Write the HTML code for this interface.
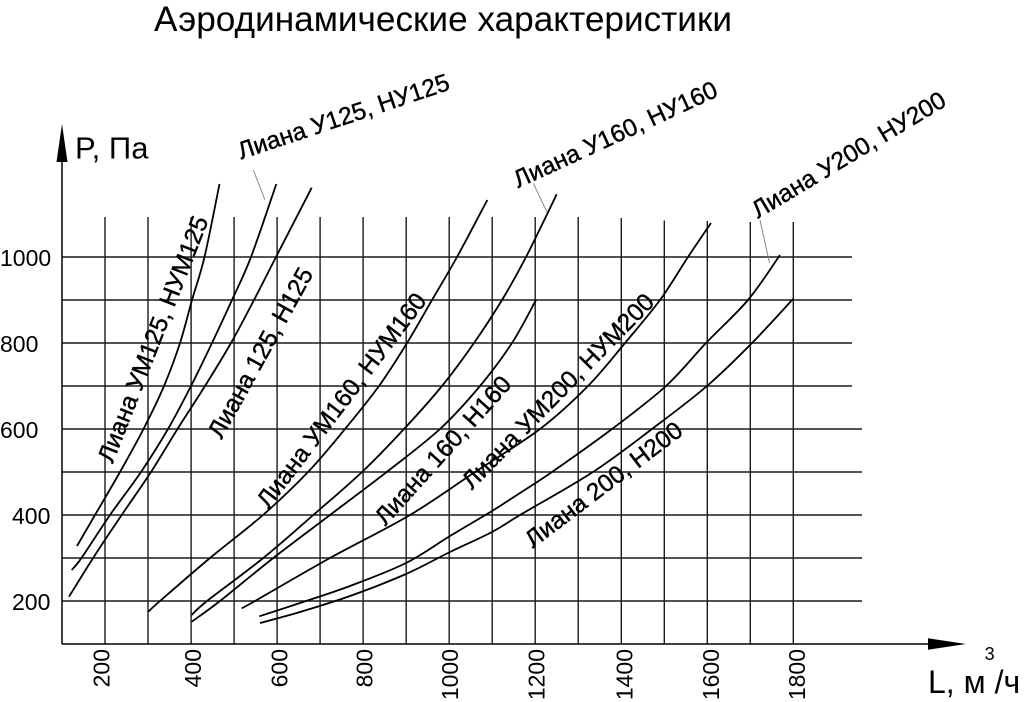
<!DOCTYPE html>
<html><head><meta charset="utf-8"><style>
html,body{margin:0;padding:0;background:#fff;}
svg{display:block;}
text{font-family:"Liberation Sans","DejaVu Sans",sans-serif;fill:#000;}
</style></head><body>
<svg id="chart" width="1024" height="702" viewBox="0 0 1024 702" xmlns="http://www.w3.org/2000/svg">
<rect width="1024" height="702" fill="#fff"/>
<text x="154" y="31" font-size="35" textLength="578" lengthAdjust="spacingAndGlyphs">Аэродинамические характеристики</text>
<g stroke="#1a1a1a" stroke-width="1.4" fill="none">
<line x1="105" y1="217" x2="105" y2="644"/>
<line x1="148" y1="217" x2="148" y2="644"/>
<line x1="191.1" y1="217" x2="191.1" y2="644"/>
<line x1="234.1" y1="217" x2="234.1" y2="644"/>
<line x1="277.1" y1="217" x2="277.1" y2="644"/>
<line x1="320.1" y1="217" x2="320.1" y2="644"/>
<line x1="363.1" y1="217" x2="363.1" y2="644"/>
<line x1="406.2" y1="217" x2="406.2" y2="644"/>
<line x1="449.2" y1="217" x2="449.2" y2="644"/>
<line x1="492.2" y1="217" x2="492.2" y2="644"/>
<line x1="535.2" y1="217" x2="535.2" y2="644"/>
<line x1="578.2" y1="217" x2="578.2" y2="644"/>
<line x1="621.3" y1="218" x2="621.3" y2="644"/>
<line x1="664.3" y1="220.5" x2="664.3" y2="644"/>
<line x1="707.3" y1="221" x2="707.3" y2="644"/>
<line x1="750.3" y1="222" x2="750.3" y2="644"/>
<line x1="793.3" y1="222" x2="793.3" y2="644"/>
<line x1="62" y1="257" x2="852" y2="257"/>
<line x1="62" y1="300" x2="852" y2="300"/>
<line x1="62" y1="343" x2="852" y2="343"/>
<line x1="62" y1="386" x2="852" y2="386"/>
<line x1="62" y1="429" x2="862" y2="429"/>
<line x1="62" y1="472" x2="862" y2="472"/>
<line x1="62" y1="515" x2="862" y2="515"/>
<line x1="62" y1="558" x2="862" y2="558"/>
<line x1="62" y1="601" x2="862" y2="601"/>
</g>
<g stroke="#000" stroke-width="1.5">
<line x1="62" y1="158" x2="62" y2="644"/>
<line x1="62" y1="644" x2="932" y2="644"/>
</g>
<polygon points="56.5,162 67.5,162 62,124" fill="#000"/>
<polygon points="928,638.3 928,649.7 966,644" fill="#000"/>
<text x="75" y="158.5" font-size="31">P, Па</text>
<text x="928" y="693" font-size="32">L, м<tspan font-size="18" y="660" dx="-1">3</tspan><tspan y="693">/ч</tspan></text>
<g font-size="23">
<text x="0" y="266">1000</text>
<text x="0" y="352">800</text>
<text x="0" y="438">600</text>
<text x="12" y="524">400</text>
<text x="12" y="610">200</text>
<text transform="translate(109.3,649) rotate(-90)" text-anchor="end">200</text>
<text transform="translate(200.8,649) rotate(-90)" text-anchor="end">400</text>
<text transform="translate(287.3,649) rotate(-90)" text-anchor="end">600</text>
<text transform="translate(372.3,649) rotate(-90)" text-anchor="end">800</text>
<text transform="translate(457.8,649) rotate(-90)" text-anchor="end">1000</text>
<text transform="translate(544.3,649) rotate(-90)" text-anchor="end">1200</text>
<text transform="translate(632.3,649) rotate(-90)" text-anchor="end">1400</text>
<text transform="translate(719.1,649) rotate(-90)" text-anchor="end">1600</text>
<text transform="translate(805,649) rotate(-90)" text-anchor="end">1800</text>
</g>
<g stroke="#000" stroke-width="1.8" fill="none" stroke-linejoin="round" stroke-linecap="butt">
<polyline class="c" points="77,546 95,515 120,472 143.5,429 164,386 180,343 192,300 204.5,257 219.5,184"/>
<polyline class="c" points="71.7,570 81.7,557.7 110,515 141,472 168,429 191,386 212,343 232,300 251,257 276.3,184"/>
<polyline class="c" points="69,596.7 93.3,557.7 121.7,515 151,472 177.5,429 205,386 231,343 254,300 276,257 311.7,187.7"/>
<polyline class="c" points="148.3,611.7 160,601 210,558 263,515 308,472 345,429 379,386 407,343 432,300 457,257 487.3,200"/>
<polyline class="c" points="191.7,615 207,601 263.3,558 313.3,515 362,472 404,429 442,386 474,343 502,300 526,257 556.7,194.3"/>
<polyline class="c" points="191.7,621.7 220,601 273.3,558 330,515 386.7,472 440,429 480,386 512,343 536,300"/>
<polyline class="c" points="241.7,608.3 255,601 330,558 410,515 475,472 540,429 588,386 625,343 660,300 688,257 711,223"/>
<polyline class="c" points="259.3,616.3 300,603 350,586 406,563 450,536 492,511 520,493 552,472 612,429 666,386 706,343 748,300 780,255"/>
<polyline class="c" points="260,623 300,612 350,596 406,574 450,552 492,532 520,515 593,472 652,429 707,386 752,343 793,299"/>
</g>
<g stroke="#888" stroke-width="1" fill="none">
<line x1="253.3" y1="170" x2="265" y2="200"/>
<line x1="533.3" y1="183.3" x2="546.7" y2="211.7"/>
<line x1="760" y1="220" x2="769.5" y2="263"/>
</g>
<g font-size="24.5" text-anchor="middle" stroke="#000" stroke-width="0.4">
<text transform="translate(343.3,116) rotate(-18.5)" dy="8.8">Лиана У125, НУ125</text>
<text transform="translate(615,134) rotate(-24.7)" dy="8.8">Лиана У160, НУ160</text>
<text transform="translate(848.3,154.3) rotate(-31)" dy="8.8">Лиана У200, НУ200</text>
<text transform="translate(152.5,339) rotate(-68.5)" dy="8.8">Лиана УМ125, НУМ125</text>
<text transform="translate(260,352.5) rotate(-61)" dy="8.8">Лиана 125, Н125</text>
<text transform="translate(341,400) rotate(-52.7)" dy="8.8">Лиана УМ160, НУМ160</text>
<text transform="translate(442.5,450) rotate(-48)" dy="8.8">Лиана 160, Н160</text>
<text transform="translate(557.5,390.8) rotate(-45.5)" dy="8.8">Лиана УМ200, НУМ200</text>
<text transform="translate(603.3,484.2) rotate(-37.2)" dy="8.8">Лиана 200, Н200</text>
</g>
</svg>
<script>
(function(){
var pls=document.querySelectorAll('polyline.c');
for(var k=0;k<pls.length;k++){
var pl=pls[k];
var p=pl.getAttribute('points').trim().split(/\s+/).map(function(s){return s.split(',').map(Number);});
var d='M'+p[0][0]+','+p[0][1];
for(var i=0;i<p.length-1;i++){
var p0=p[i-1]||p[i],p1=p[i],p2=p[i+1],p3=p[i+2]||p2;
var c1x=p1[0]+(p2[0]-p0[0])/6,c1y=p1[1]+(p2[1]-p0[1])/6;
var c2x=p2[0]-(p3[0]-p1[0])/6,c2y=p2[1]-(p3[1]-p1[1])/6;
d+=' C'+c1x.toFixed(2)+','+c1y.toFixed(2)+' '+c2x.toFixed(2)+','+c2y.toFixed(2)+' '+p2[0]+','+p2[1];
}
var path=document.createElementNS('http://www.w3.org/2000/svg','path');
path.setAttribute('d',d);
pl.parentNode.replaceChild(path,pl);
}
})();
</script>
</body></html>
